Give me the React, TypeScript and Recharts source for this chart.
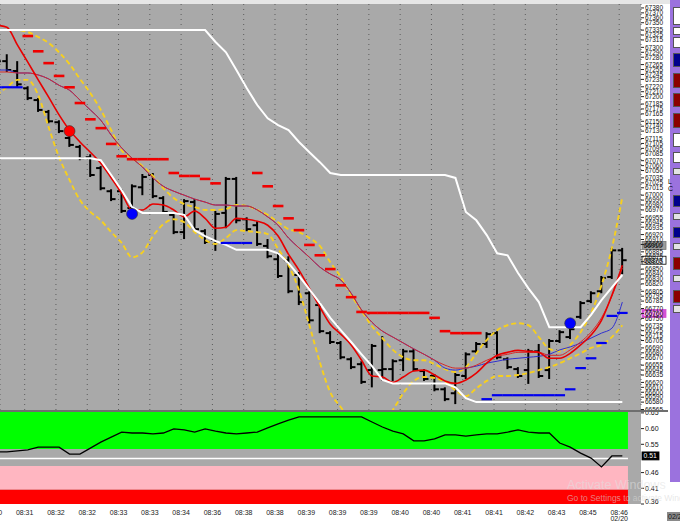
import React from "react";
import {
  Bar,
  CartesianGrid,
  ComposedChart,
  Line,
  ReferenceArea,
  ReferenceLine,
  Scatter,
  XAxis,
  YAxis
} from "recharts";

// one time label every third bar
const TIME_IDX = [0, 3, 6, 9, 12, 15, 18, 21, 24, 27, 30, 33, 36, 39, 42, 45, 48, 51, 54, 57, 60];
const TIME_LABELS = ["08:30", "08:31", "08:32", "08:32", "08:33", "08:33", "08:34", "08:36", "08:38", "08:38", "08:39", "08:39", "08:39", "08:40", "08:40", "08:41", "08:41", "08:42", "08:43", "08:45", "08:46"];
const DATE_LABEL = "02/20";

const OPEN = [67284, 67272, 67252, 67217, 67193, 67169, 67148, 67116, 67098, 67077, 67055, 67008, 67008, 66974, 67016, 67041, 66994, 66960, 66925, 66986, 66927, 66909, 66964, 67033, 66951, 66939, 66897, 66870, 66868, 66838, 66801, 66777, 66720, 66700, 66667, 66657, 66645, 66645, 66647, 66665, 66683, 66643, 66633, 66606, 66598, 66633, 66683, 66698, 66720, 66667, 66647, 66645, 66683, 66645, 66704, 66712, 66753, 66785, 66805, 66834, 66888];
const HIGH = [67294, 67284, 67270, 67219, 67195, 67171, 67150, 67118, 67100, 67081, 67057, 67010, 67010, 67020, 67041, 67043, 66996, 66962, 66990, 66990, 66929, 66966, 67035, 67035, 66953, 66945, 66909, 66882, 66874, 66842, 66803, 66781, 66722, 66702, 66669, 66661, 66696, 66712, 66665, 66686, 66686, 66645, 66635, 66608, 66637, 66679, 66700, 66720, 66722, 66669, 66649, 66686, 66696, 66706, 66724, 66730, 66783, 66803, 66834, 66891, 66891];
const LOW = [67262, 67252, 67221, 67195, 67171, 67148, 67128, 67100, 67073, 67039, 67012, 66990, 66966, 66970, 67002, 66996, 66964, 66923, 66913, 66929, 66903, 66889, 66935, 66945, 66929, 66899, 66874, 66834, 66803, 66779, 66742, 66722, 66700, 66669, 66649, 66619, 66612, 66625, 66625, 66645, 66645, 66625, 66604, 66584, 66578, 66629, 66681, 66692, 66669, 66649, 66631, 66619, 66631, 66629, 66702, 66710, 66751, 66783, 66803, 66832, 66842];
const CLOSE = [67272, 67254, 67225, 67197, 67173, 67150, 67130, 67102, 67075, 67041, 67014, 66992, 66968, 67018, 67037, 66998, 66966, 66925, 66988, 66931, 66905, 66962, 67033, 66949, 66931, 66901, 66876, 66836, 66805, 66783, 66746, 66724, 66702, 66671, 66651, 66621, 66694, 66647, 66663, 66683, 66647, 66627, 66606, 66586, 66635, 66677, 66698, 66718, 66671, 66651, 66633, 66683, 66633, 66704, 66722, 66728, 66781, 66801, 66832, 66888, 66868];

const MA_FAST = [67345, 67341, 67305, 67270, 67234, 67199, 67163, 67132, 67108, 67087, 67065, 67035, 67004, 66970, 66970, 66982, 66980, 66970, 66956, 66968, 66953, 66933, 66935, 66953, 66951, 66947, 66939, 66917, 66880, 66848, 66811, 66773, 66738, 66718, 66696, 66665, 66633, 66631, 66620, 66631, 66643, 66645, 66635, 66623, 66618, 66625, 66639, 66659, 66675, 66681, 66685, 66683, 66681, 66669, 66669, 66679, 66696, 66716, 66746, 66797, 66858];
const MA_SLOW = [67250, 67250, 67248, 67248, 67244, 67236, 67223, 67213, 67193, 67173, 67152, 67122, 67096, 67075, 67057, 67035, 67018, 67008, 67000, 66992, 66986, 66980, 66980, 66978, 66978, 66970, 66956, 66939, 66913, 66893, 66874, 66854, 66840, 66828, 66801, 66767, 66742, 66724, 66712, 66700, 66688, 66677, 66665, 66655, 66649, 66649, 66655, 66665, 66673, 66677, 66681, 66681, 66681, 66675, 66675, 66686, 66702, 66722, 66751, 66795, 66852];
const MA_BLUE = [67254, 67254, 67248, 67248, 67244, 67236, 67223, 67213, 67193, 67173, 67152, 67122, 67096, 67075, 67057, 67035, 67018, 67008, 67000, 66992, 66986, 66980, 66980, 66978, 66978, 66970, 66956, 66939, 66913, 66893, 66874, 66854, 66840, 66828, 66801, 66767, 66742, 66724, 66712, 66700, 66688, 66677, 66665, 66649, 66645, 66649, 66653, 66659, 66663, 66667, 66669, 66671, 66673, 66677, 66686, 66692, 66700, 66710, 66720, 66730, 66783];

const BAND_UP = [67335, 67335, 67335, 67331, 67321, 67309, 67290, 67266, 67236, 67207, 67173, 67132, 67091, 67075, 67059, 67039, 67014, 66994, 66982, 66976, 66970, 66970, 66972, 66980, 66978, 66970, 66960, 66945, 66931, 66925, 66913, 66897, 66864, 66834, 66797, 66765, 66734, 66710, 66686, 66671, 66665, 66665, 66657, 66647, 66641, 66651, 66679, 66706, 66726, 66736, 66740, 66736, 66712, 66688, 66683, 66696, 66722, 66761, 66817, 66893, 66996];
const BAND_LOW = [67203, 67219, 67234, 67234, 67203, 67138, 67077, 67031, 66990, 66966, 66949, 66925, 66903, 66874, 66884, 66917, 66941, 66951, 66945, 66925, 66909, 66901, 66913, 66929, 66927, 66925, 66921, 66891, 66858, 66807, 66736, 66661, 66600, 66570, 66543, 66523, 66519, 66533, 66564, 66598, 66623, 66631, 66629, 66621, 66604, 66592, 66608, 66623, 66633, 66633, 66635, 66639, 66645, 66651, 66659, 66669, 66679, 66690, 66696, 66712, 66736];

const STOP_HIGH = [67335, 67335, 67335, 67335, 67335, 67335, 67335, 67335, 67335, 67335, 67335, 67335, 67335, 67335, 67335, 67335, 67335, 67335, 67335, 67335, 67335, 67311, 67290, 67254, 67217, 67183, 67156, 67142, 67132, 67108, 67087, 67067, 67045, 67041, 67041, 67041, 67041, 67041, 67041, 67041, 67041, 67041, 67041, 67041, 67035, 66966, 66949, 66919, 66882, 66878, 66842, 66811, 66783, 66732, 66732, 66732, 66732, 66757, 66787, 66813, 66838];
const STOP_LOW = [67075, 67075, 67075, 67075, 67075, 67075, 67075, 67075, 67075, 67075, 67071, 67041, 67010, 66976, 66964, 66964, 66964, 66964, 66960, 66929, 66917, 66907, 66899, 66889, 66889, 66889, 66889, 66882, 66862, 66836, 66809, 66781, 66751, 66726, 66702, 66677, 66653, 66625, 66618, 66618, 66618, 66618, 66618, 66618, 66610, 66588, 66580, 66580, 66580, 66580, 66580, 66580, 66580, 66580, 66580, 66580, 66580, 66580, 66580, 66580, 66580];

const RED_DASH = [null, null, null, 67323, 67292, 67268, 67242, 67219, 67187, 67154, 67136, 67104, 67079, 67073, 67073, 67073, 67073, 67045, 67039, 67039, 67033, 67024, null, null, null, 67045, 67018, 66978, 66953, 66929, 66899, 66878, 66850, 66817, 66793, 66763, 66761, 66761, 66761, 66761, 66761, 66761, 66751, 66724, 66720, 66720, 66720, null, null, null, null, null, null, null, null, null, null, null, null, null, null];
const BLUE_DASH = [67219, 67219, 67219, null, null, null, null, null, null, null, null, null, null, null, null, null, null, null, null, null, null, null, 66903, 66903, 66903, null, null, null, null, null, null, null, null, null, null, null, null, null, null, null, null, null, null, null, null, null, null, 66586, 66594, 66594, 66594, 66594, 66594, 66594, 66594, 66606, 66649, 66669, 66700, 66755, 66761];

const OSC = [0.526, 0.526, 0.529, 0.532, 0.541, 0.541, 0.541, 0.519, 0.519, 0.538, 0.557, 0.573, 0.589, 0.586, 0.586, 0.583, 0.586, 0.599, 0.596, 0.589, 0.599, 0.592, 0.586, 0.583, 0.586, 0.589, 0.602, 0.615, 0.627, 0.637, 0.637, 0.637, 0.637, 0.637, 0.637, 0.637, 0.621, 0.605, 0.592, 0.583, 0.561, 0.561, 0.567, 0.58, 0.58, 0.576, 0.58, 0.583, 0.583, 0.589, 0.596, 0.589, 0.586, 0.586, 0.554, 0.541, 0.522, 0.506, 0.478, 0.513, 0.513];

const SIGNALS = [
  { i: 7, v: 67130, color: "#ff0000" },
  { i: 13, v: 66962, color: "#0000ff" },
  { i: 55, v: 66740, color: "#0000ff" }
];

const PRICE_TICKS = [67380, 67370, 67360, 67350, 67335, 67325, 67315, 67300, 67290, 67280, 67265, 67255, 67245, 67235, 67220, 67210, 67200, 67185, 67175, 67165, 67150, 67140, 67130, 67115, 67105, 67095, 67085, 67070, 67060, 67050, 67035, 67025, 67015, 67000, 66990, 66980, 66970, 66955, 66945, 66935, 66920, 66910, 66900, 66885, 66875, 66865, 66850, 66840, 66830, 66820, 66805, 66795, 66785, 66770, 66760, 66750, 66735, 66725, 66715, 66705, 66690, 66680, 66670, 66655, 66645, 66635, 66620, 66610, 66600, 66590, 66580, 66565];
const PRICE_BOXES = [
  { v: 66898, text: "66910", bg: "#9d9d9d", fg: "#111", border: "#777" },
  { v: 66868, text: "66870", bg: "#ffffff", fg: "#000", border: "#000" },
  { v: 66760, text: "66760", bg: "#d452d4", fg: "#ffffff", border: "#d452d4" }
];
const OSC_TICKS = [0.65, 0.6, 0.55, 0.46, 0.41, 0.36];
const OSC_LAST = 0.513;
const OSC_MID = 0.505;
const OSC_ZONES = [
  { y1: 0.535, y2: 0.656, fill: "#00ff00" },
  { y1: 0.405, y2: 0.481, fill: "#ffb6c1" },
  { y1: 0.36, y2: 0.405, fill: "#ff0000" }
];

const X_DOMAIN: [number, number] = [0.336, 61.79];
const ZONE_END = 60.54;
const PRICE_DOMAIN: [number, number] = [66564, 67388];
const OSC_DOMAIN: [number, number] = [0.36, 0.656];
const TICK_POS = TIME_IDX.map((i) => i - 0.3);

const rows = OPEN.map((open, i) => ({
  i,
  hl: [LOW[i], HIGH[i]],
  open,
  high: HIGH[i],
  low: LOW[i],
  close: CLOSE[i],
  fast: MA_FAST[i],
  slow: MA_SLOW[i],
  blue: MA_BLUE[i],
  up: BAND_UP[i],
  dn: BAND_LOW[i],
  stopHigh: STOP_HIGH[i],
  stopLow: STOP_LOW[i],
  osc: OSC[i]
}));
const redDashes = RED_DASH.map((v, i) => ({ i, v })).filter((d) => d.v != null);
const blueDashes = BLUE_DASH.map((v, i) => ({ i, v })).filter((d) => d.v != null);

const FONT = "'Liberation Sans', Arial, sans-serif";
const YELLOW = "#f6cf1f";

function OhlcShape(props: any) {
  const { x, y, width, height, payload } = props;
  if (!payload || !Number.isFinite(y)) return null;
  const cx = x + width / 2;
  const span = payload.high - payload.low || 1;
  const toY = (v: number) => y + ((payload.high - v) / span) * height;
  return (
    <g stroke="#000" strokeWidth={2}>
      <line x1={cx} x2={cx} y1={y - 1} y2={y + height + 1} />
      <line x1={cx - 4.5} x2={cx} y1={toY(payload.open)} y2={toY(payload.open)} />
      <line x1={cx} x2={cx + 4.5} y1={toY(payload.close)} y2={toY(payload.close)} />
    </g>
  );
}

function Dash({ cx, cy, color, thick }: any) {
  if (!Number.isFinite(cy)) return null;
  return <line x1={cx - 5.3} x2={cx + 5.3} y1={cy} y2={cy} stroke={color} strokeWidth={thick} />;
}

function SignalDot({ cx, cy, payload }: any) {
  return <circle cx={cx} cy={cy} r={5.5} fill={payload.color} stroke="#333" strokeWidth={0.6} />;
}

function PriceTick({ x, y, payload }: any) {
  return (
    <text x={x} y={y} dy={2.3} fontSize={6.5} fill="#111" textAnchor="start">
      {payload.value}
    </text>
  );
}

function OscTick({ x, y, payload }: any) {
  const shift = payload.value === 0.36 ? -3 : 0;
  return (
    <text x={x} y={y + shift} dy={2.5} fontSize={7} fill="#111" textAnchor="start">
      {payload.value.toFixed(2)}
    </text>
  );
}

function TimeTick({ x, y, payload }: any) {
  const idx = Math.round((payload.value + 0.3) / 3);
  return (
    <g fontSize={7} fill="#222">
      <text x={x} y={y} dy={6.5} textAnchor="middle">{TIME_LABELS[idx]}</text>
      {idx === TIME_LABELS.length - 1 && (
        <text x={x} y={y} dy={12.5} textAnchor="middle">{DATE_LABEL}</text>
      )}
    </g>
  );
}

function AxisBox({ viewBox, text, bg, fg, border, w }: any) {
  if (!viewBox) return null;
  const left = viewBox.x + viewBox.width + 1;
  const cy = viewBox.y;
  return (
    <g>
      <rect x={left} y={cy - 4} width={w} height={8} fill={bg} stroke={border} strokeWidth={0.8} />
      <text x={left + 1.5} y={cy + 2.4} fontSize={6.8} fill={fg}>{text}</text>
    </g>
  );
}

const PANEL_BOXES = [
  { top: 7, h: 18, c: "#ffffff" },
  { top: 27, h: 8, c: "#ffffff" },
  { top: 37, h: 11, c: "#ffffff" },
  { top: 53, h: 14, c: "#00008b" },
  { top: 73, h: 15, c: "#8b0000" },
  { top: 93, h: 14, c: "#8b0000" },
  { top: 113, h: 15, c: "#8b0000" },
  { top: 133, h: 14, c: "#ffffff" },
  { top: 152, h: 11, c: "#ffffff" },
  { top: 168, h: 7, c: "#e4e4e4" },
  { top: 195, h: 12, c: "#00008b" },
  { top: 213, h: 7, c: "#e4e4e4" },
  { top: 227, h: 11, c: "#00008b" },
  { top: 243, h: 7, c: "#e4e4e4" },
  { top: 257, h: 13, c: "#8b0000" },
  { top: 275, h: 7, c: "#e4e4e4" },
  { top: 290, h: 13, c: "#8b0000" },
  { top: 305, h: 8, c: "#e4e4e4" }
];

export default function App() {
  return (
    <div
      style={{
        position: "fixed",
        left: 0,
        top: 0,
        width: 680,
        height: 523,
        overflow: "hidden",
        background: "#ffffff",
        fontFamily: FONT
      }}
    >
      <div style={{ position: "absolute", left: 0, top: 0, width: 670, height: 4, background: "#e6e6e6" }} />
      <div style={{ position: "absolute", left: 0, top: 4, width: 641, height: 500, background: "#a9a9a9" }} />

      <div style={{ position: "absolute", left: 0, top: 0 }}>
        <ComposedChart width={672} height={410} data={rows} margin={{ top: 4, right: 0, bottom: 0, left: 0 }}>
          <CartesianGrid vertical horizontal={false} stroke="#5c5c5c" strokeDasharray="1 4" />
          <XAxis dataKey="i" type="number" domain={X_DOMAIN} allowDataOverflow ticks={TICK_POS} interval={0} hide />
          <YAxis
            orientation="right"
            type="number"
            domain={PRICE_DOMAIN}
            allowDataOverflow
            ticks={PRICE_TICKS}
            interval={0}
            width={31}
            tickSize={3}
            tickMargin={1}
            axisLine={false}
            tickLine={{ stroke: "#222" }}
            tick={<PriceTick />}
          />
          <Line dataKey="up" type="monotone" stroke={YELLOW} strokeWidth={1.9} strokeDasharray="5 3" dot={false} isAnimationActive={false} />
          <Line dataKey="dn" type="monotone" stroke={YELLOW} strokeWidth={1.9} strokeDasharray="5 3" dot={false} isAnimationActive={false} />
          <Line dataKey="blue" type="monotone" stroke="#3030d0" strokeWidth={1} dot={false} isAnimationActive={false} />
          <Line dataKey="slow" type="monotone" stroke="#d62a2a" strokeWidth={1} dot={false} isAnimationActive={false} />
          <Line dataKey="fast" type="monotone" stroke="#e80000" strokeWidth={1.6} dot={false} isAnimationActive={false} />
          <Line dataKey="stopHigh" type="linear" stroke="#ffffff" strokeWidth={2} dot={false} isAnimationActive={false} />
          <Line dataKey="stopLow" type="linear" stroke="#ffffff" strokeWidth={2} dot={false} isAnimationActive={false} />
          <Scatter data={redDashes} dataKey="v" shape={<Dash color="#f00000" thick={2.6} />} isAnimationActive={false} />
          <Scatter data={blueDashes} dataKey="v" shape={<Dash color="#0000ee" thick={2.2} />} isAnimationActive={false} />
          <Bar dataKey="hl" shape={<OhlcShape />} isAnimationActive={false} />
          <Scatter data={SIGNALS} dataKey="v" shape={<SignalDot />} isAnimationActive={false} />
          {PRICE_BOXES.map((b) => (
            <ReferenceLine
              key={b.text + b.v}
              y={b.v}
              stroke="none"
              label={<AxisBox text={b.text} bg={b.bg} fg={b.fg} border={b.border} w={24} />}
            />
          ))}
        </ComposedChart>
      </div>

      <div style={{ position: "absolute", left: 0, top: 411 }}>
        <ComposedChart width={672} height={112} data={rows} margin={{ top: 0, right: 0, bottom: 0, left: 0 }}>
          <XAxis
            dataKey="i"
            type="number"
            domain={X_DOMAIN}
            allowDataOverflow
            ticks={TICK_POS}
            interval={0}
            tick={<TimeTick />}
            tickLine={false}
            axisLine={false}
            tickSize={2}
            height={19}
          />
          <YAxis
            orientation="right"
            type="number"
            domain={OSC_DOMAIN}
            allowDataOverflow
            ticks={OSC_TICKS}
            interval={0}
            width={31}
            tickSize={3}
            tickMargin={1}
            axisLine={false}
            tickLine={{ stroke: "#222" }}
            tick={<OscTick />}
          />
          {OSC_ZONES.map((z) => (
            <ReferenceArea key={z.fill} x1={X_DOMAIN[0]} x2={ZONE_END} y1={z.y1} y2={z.y2} fill={z.fill} fillOpacity={1} stroke="none" />
          ))}
          <ReferenceLine
            segment={[{ x: X_DOMAIN[0], y: OSC_MID }, { x: ZONE_END, y: OSC_MID }]}
            stroke="#ffffff"
            strokeWidth={1.6}
          />
          <Line dataKey="osc" type="linear" stroke="#000000" strokeWidth={1.3} dot={false} isAnimationActive={false} />
          <ReferenceLine
            y={OSC_LAST}
            stroke="none"
            label={<AxisBox text="0.51" bg="#000000" fg="#ffffff" border="#000000" w={17} />}
          />
        </ComposedChart>
      </div>

      <div style={{ position: "absolute", left: 0, top: 410, width: 668, height: 2, background: "#6e6e6e" }} />

      <div style={{ position: "absolute", left: 670, top: 0, width: 10, height: 482, background: "#9b72de" }} />
      {PANEL_BOXES.map((b) => (
        <div
          key={b.top}
          style={{ position: "absolute", left: 673, top: b.top, width: 10, height: b.h, background: b.c, border: "1px solid #555", boxSizing: "border-box" }}
        />
      ))}
      <div style={{ position: "absolute", left: 668, top: 178, fontSize: 7, color: "#000" }}>L</div>
      <div style={{ position: "absolute", left: 668, top: 185, fontSize: 7, color: "#000" }}>C</div>

      <div
        style={{
          position: "absolute",
          left: 567,
          top: 478,
          fontSize: 12.5,
          color: "rgba(225,225,225,0.55)",
          whiteSpace: "nowrap",
          lineHeight: "14px"
        }}
      >
        Activate Windows
      </div>
      <div
        style={{
          position: "absolute",
          left: 567,
          top: 493,
          fontSize: 8.5,
          color: "rgba(215,215,215,0.6)",
          whiteSpace: "nowrap",
          lineHeight: "10px"
        }}
      >
        Go to Settings to activate Windows.
      </div>
      <div
        style={{
          position: "absolute",
          left: 667,
          top: 512,
          width: 16,
          height: 9,
          background: "#8a8a8a",
          color: "#111",
          fontSize: 7,
          lineHeight: "9px",
          paddingLeft: 1
        }}
      >
        02/2
      </div>
    </div>
  );
}
